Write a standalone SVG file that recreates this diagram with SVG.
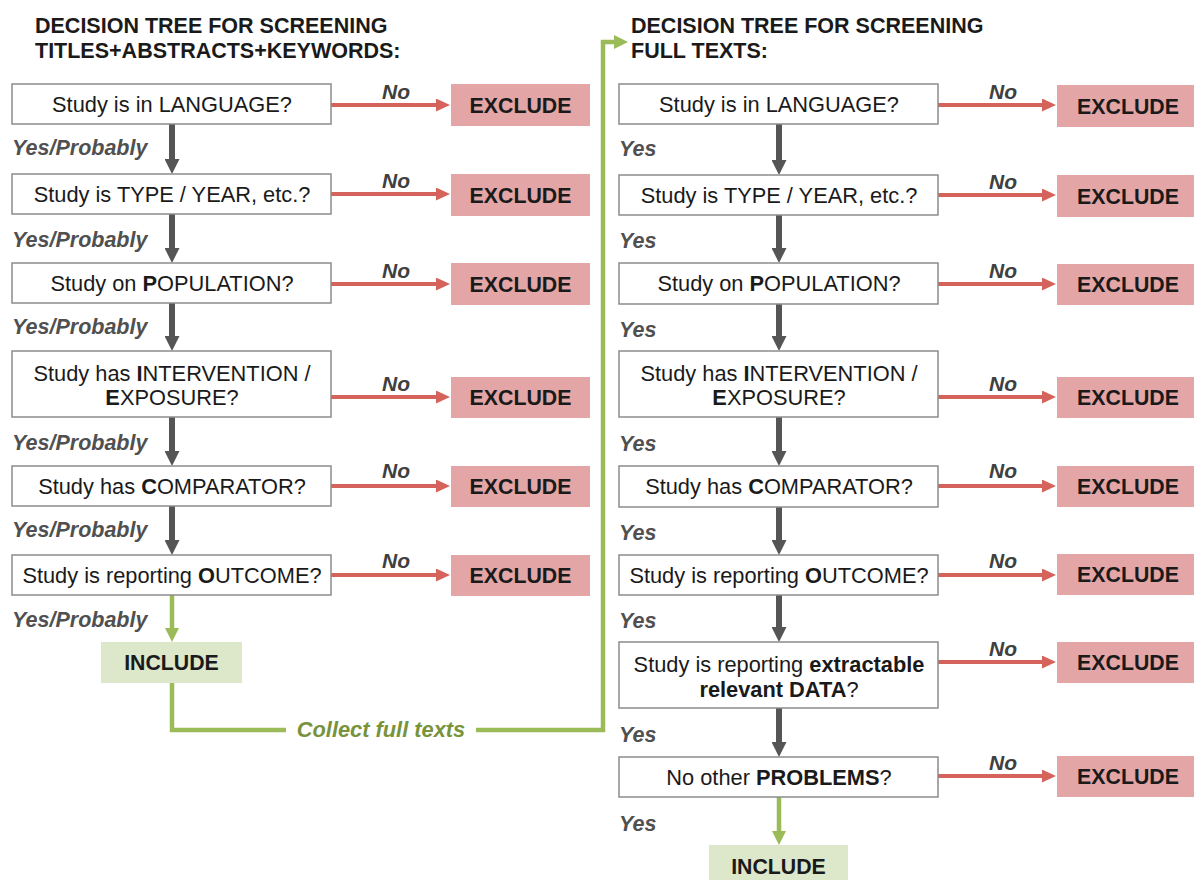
<svg xmlns="http://www.w3.org/2000/svg" width="1194" height="880" viewBox="0 0 1194 880">
<defs>
<style>
text{font-family:"Liberation Sans",Arial,sans-serif;fill:#1a1a1a}
.title{font-size:21.5px;font-weight:bold}
.q{font-size:21.8px;text-anchor:middle}
.b{font-weight:bold}
.box{fill:#fff;stroke:#8c8c8c;stroke-width:1.5}
.exc{fill:#e3a5a5}
.inc{fill:#dde8cb}
.et{font-size:21.3px;font-weight:bold;text-anchor:middle}
.lbl{font-size:21.5px;font-weight:bold;font-style:italic;fill:#505050}
.no{font-size:21px;font-weight:bold;font-style:italic;fill:#404040;text-anchor:middle}
.dark{stroke:#555;stroke-width:6;fill:none}
.red{stroke:#d6635b;stroke-width:4;fill:none}
.grn{stroke:#9bbb59;stroke-width:4.5;fill:none}
.ct{font-size:21.8px;font-weight:bold;font-style:italic;fill:#77933c;text-anchor:middle}
</style>
<marker id="mDark" markerUnits="userSpaceOnUse" markerWidth="15" markerHeight="15" viewBox="0 0 15 15" refX="3" refY="7.5" orient="auto"><path d="M0,0 L15,7.5 L0,15 z" fill="#555"/></marker>
<marker id="mRed" markerUnits="userSpaceOnUse" markerWidth="14" markerHeight="13" viewBox="0 0 14 13" refX="3" refY="6.5" orient="auto"><path d="M0,0 L14,6.5 L0,13 z" fill="#d6635b"/></marker>
<marker id="mGrn" markerUnits="userSpaceOnUse" markerWidth="14" markerHeight="14" viewBox="0 0 14 14" refX="3" refY="7" orient="auto"><path d="M0,0 L14,7 L0,14 z" fill="#9bbb59"/></marker>
</defs>

<g id="titles">
<text class="title" x="35" y="33">DECISION TREE FOR SCREENING</text>
<text class="title" x="35" y="58">TITLES+ABSTRACTS+KEYWORDS:</text>
<text class="title" x="631" y="33">DECISION TREE FOR SCREENING</text>
<text class="title" x="631" y="58">FULL TEXTS:</text>
</g>

<g id="connectors">
<line class="dark" x1="172" y1="124" x2="172" y2="162" marker-end="url(#mDark)"/>
<line class="dark" x1="172" y1="214" x2="172" y2="251" marker-end="url(#mDark)"/>
<line class="dark" x1="172" y1="303" x2="172" y2="339" marker-end="url(#mDark)"/>
<line class="dark" x1="172" y1="417" x2="172" y2="454" marker-end="url(#mDark)"/>
<line class="dark" x1="172" y1="506" x2="172" y2="543" marker-end="url(#mDark)"/>
<line class="grn" x1="172" y1="595" x2="172" y2="631" marker-end="url(#mGrn)"/>
<line class="dark" x1="779" y1="124" x2="779" y2="163" marker-end="url(#mDark)"/>
<line class="dark" x1="779" y1="215" x2="779" y2="251" marker-end="url(#mDark)"/>
<line class="dark" x1="779" y1="304" x2="779" y2="339" marker-end="url(#mDark)"/>
<line class="dark" x1="779" y1="417" x2="779" y2="454" marker-end="url(#mDark)"/>
<line class="dark" x1="779" y1="507" x2="779" y2="543" marker-end="url(#mDark)"/>
<line class="dark" x1="779" y1="595" x2="779" y2="630" marker-end="url(#mDark)"/>
<line class="dark" x1="779" y1="708" x2="779" y2="745" marker-end="url(#mDark)"/>
<line class="grn" x1="779" y1="797" x2="779" y2="834" marker-end="url(#mGrn)"/>
<line class="red" x1="331" y1="105" x2="439" y2="105" marker-end="url(#mRed)"/>
<line class="red" x1="331" y1="194" x2="439" y2="194" marker-end="url(#mRed)"/>
<line class="red" x1="331" y1="284" x2="439" y2="284" marker-end="url(#mRed)"/>
<line class="red" x1="331" y1="397" x2="439" y2="397" marker-end="url(#mRed)"/>
<line class="red" x1="331" y1="486" x2="439" y2="486" marker-end="url(#mRed)"/>
<line class="red" x1="331" y1="575" x2="439" y2="575" marker-end="url(#mRed)"/>
<line class="red" x1="938" y1="105" x2="1045" y2="105" marker-end="url(#mRed)"/>
<line class="red" x1="938" y1="195" x2="1045" y2="195" marker-end="url(#mRed)"/>
<line class="red" x1="938" y1="284" x2="1045" y2="284" marker-end="url(#mRed)"/>
<line class="red" x1="938" y1="397" x2="1045" y2="397" marker-end="url(#mRed)"/>
<line class="red" x1="938" y1="486" x2="1045" y2="486" marker-end="url(#mRed)"/>
<line class="red" x1="938" y1="575" x2="1045" y2="575" marker-end="url(#mRed)"/>
<line class="red" x1="938" y1="662" x2="1045" y2="662" marker-end="url(#mRed)"/>
<line class="red" x1="938" y1="776" x2="1045" y2="776" marker-end="url(#mRed)"/>
<path class="grn" d="M172,683 V730 H286"/>
<path class="grn" d="M476,730 H603 V42 H617" marker-end="url(#mGrn)"/>
<text class="ct" x="381" y="737">Collect full texts</text>
<text class="lbl" x="12" y="155">Yes/Probably</text>
<text class="lbl" x="12" y="247">Yes/Probably</text>
<text class="lbl" x="12" y="334">Yes/Probably</text>
<text class="lbl" x="12" y="450">Yes/Probably</text>
<text class="lbl" x="12" y="537">Yes/Probably</text>
<text class="lbl" x="12" y="627">Yes/Probably</text>
<text class="lbl" x="619" y="156">Yes</text>
<text class="lbl" x="619" y="248">Yes</text>
<text class="lbl" x="619" y="337">Yes</text>
<text class="lbl" x="619" y="451">Yes</text>
<text class="lbl" x="619" y="540">Yes</text>
<text class="lbl" x="619" y="628">Yes</text>
<text class="lbl" x="619" y="742">Yes</text>
<text class="lbl" x="619" y="831">Yes</text>
<text class="no" x="396" y="99">No</text>
<text class="no" x="396" y="188">No</text>
<text class="no" x="396" y="278">No</text>
<text class="no" x="396" y="391">No</text>
<text class="no" x="396" y="478">No</text>
<text class="no" x="396" y="568">No</text>
<text class="no" x="1003" y="99">No</text>
<text class="no" x="1003" y="189">No</text>
<text class="no" x="1003" y="278">No</text>
<text class="no" x="1003" y="391">No</text>
<text class="no" x="1003" y="478">No</text>
<text class="no" x="1003" y="568">No</text>
<text class="no" x="1003" y="656">No</text>
<text class="no" x="1003" y="770">No</text>
</g>

<g id="L1"><rect class="box" x="12" y="84" width="319" height="40"/><text class="q" x="172" y="111.5">Study is in LANGUAGE?</text></g>
<g id="L2"><rect class="box" x="12" y="174" width="319" height="40"/><text class="q" x="172" y="201.5">Study is TYPE / YEAR, etc.?</text></g>
<g id="L3"><rect class="box" x="12" y="263" width="319" height="40"/><text class="q" x="172" y="290.5">Study on <tspan class="b">P</tspan>OPULATION?</text></g>
<g id="L4"><rect class="box" x="12" y="351" width="319" height="66"/><text class="q" x="172" y="381">Study has <tspan class="b">I</tspan>NTERVENTION /</text><text class="q" x="172" y="405"><tspan class="b">E</tspan>XPOSURE?</text></g>
<g id="L5"><rect class="box" x="12" y="466" width="319" height="40"/><text class="q" x="172" y="493.5">Study has <tspan class="b">C</tspan>OMPARATOR?</text></g>
<g id="L6"><rect class="box" x="12" y="555" width="319" height="40"/><text class="q" x="172" y="582.5">Study is reporting <tspan class="b">O</tspan>UTCOME?</text></g>
<g id="LInc"><rect class="inc" x="101" y="642" width="141" height="41"/><text class="et" x="171.5" y="670">INCLUDE</text></g>
<g id="LX1"><rect class="exc" x="451" y="84" width="139" height="42"/><text class="et" x="520.5" y="112.5">EXCLUDE</text></g>
<g id="LX2"><rect class="exc" x="451" y="174" width="139" height="42"/><text class="et" x="520.5" y="202.5">EXCLUDE</text></g>
<g id="LX3"><rect class="exc" x="451" y="263" width="139" height="42"/><text class="et" x="520.5" y="291.5">EXCLUDE</text></g>
<g id="LX4"><rect class="exc" x="451" y="377" width="139" height="41"/><text class="et" x="520.5" y="405">EXCLUDE</text></g>
<g id="LX5"><rect class="exc" x="451" y="466" width="139" height="41"/><text class="et" x="520.5" y="494">EXCLUDE</text></g>
<g id="LX6"><rect class="exc" x="451" y="555" width="139" height="41"/><text class="et" x="520.5" y="583">EXCLUDE</text></g>

<g id="R1"><rect class="box" x="619" y="84" width="319" height="40"/><text class="q" x="779" y="111.5">Study is in LANGUAGE?</text></g>
<g id="R2"><rect class="box" x="619" y="175" width="319" height="40"/><text class="q" x="779" y="202.5">Study is TYPE / YEAR, etc.?</text></g>
<g id="R3"><rect class="box" x="619" y="263" width="319" height="41"/><text class="q" x="779" y="291">Study on <tspan class="b">P</tspan>OPULATION?</text></g>
<g id="R4"><rect class="box" x="619" y="351" width="319" height="66"/><text class="q" x="779" y="381">Study has <tspan class="b">I</tspan>NTERVENTION /</text><text class="q" x="779" y="405"><tspan class="b">E</tspan>XPOSURE?</text></g>
<g id="R5"><rect class="box" x="619" y="466" width="319" height="41"/><text class="q" x="779" y="494">Study has <tspan class="b">C</tspan>OMPARATOR?</text></g>
<g id="R6"><rect class="box" x="619" y="555" width="319" height="40"/><text class="q" x="779" y="582.5">Study is reporting <tspan class="b">O</tspan>UTCOME?</text></g>
<g id="R7"><rect class="box" x="619" y="642" width="319" height="66"/><text class="q" x="779" y="672">Study is reporting <tspan class="b">extractable</tspan></text><text class="q" x="779" y="697"><tspan class="b">relevant DATA</tspan>?</text></g>
<g id="R8"><rect class="box" x="619" y="757" width="319" height="40"/><text class="q" x="779" y="784.5">No other <tspan class="b">PROBLEMS</tspan>?</text></g>
<g id="RInc"><rect class="inc" x="709" y="845" width="139" height="42"/><text class="et" x="778.5" y="874">INCLUDE</text></g>
<g id="RX1"><rect class="exc" x="1057" y="85" width="142" height="42"/><text class="et" x="1128" y="113.5">EXCLUDE</text></g>
<g id="RX2"><rect class="exc" x="1057" y="175" width="142" height="42"/><text class="et" x="1128" y="203.5">EXCLUDE</text></g>
<g id="RX3"><rect class="exc" x="1057" y="264" width="142" height="41"/><text class="et" x="1128" y="292">EXCLUDE</text></g>
<g id="RX4"><rect class="exc" x="1057" y="377" width="142" height="41"/><text class="et" x="1128" y="405">EXCLUDE</text></g>
<g id="RX5"><rect class="exc" x="1057" y="466" width="142" height="41"/><text class="et" x="1128" y="494">EXCLUDE</text></g>
<g id="RX6"><rect class="exc" x="1057" y="554" width="142" height="41"/><text class="et" x="1128" y="582">EXCLUDE</text></g>
<g id="RX7"><rect class="exc" x="1057" y="642" width="142" height="41"/><text class="et" x="1128" y="670">EXCLUDE</text></g>
<g id="RX8"><rect class="exc" x="1057" y="756" width="142" height="41"/><text class="et" x="1128" y="784">EXCLUDE</text></g>
</svg>
